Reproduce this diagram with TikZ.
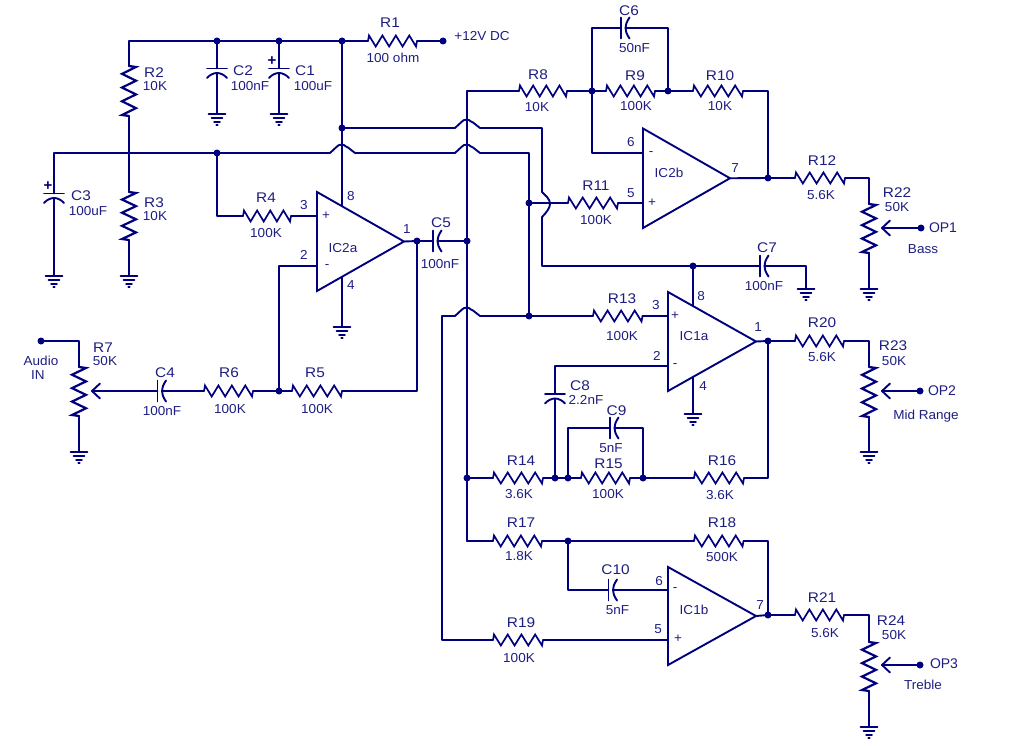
\documentclass[tikz,border=0pt]{standalone}
\usepackage{fontspec}
\setmainfont{Liberation Sans}
\definecolor{ink}{HTML}{00007F}
\definecolor{txt}{HTML}{1E1E82}
\tikzset{
  x=1pt,y=-1pt,
  wire/.style={draw=ink,line width=1.9pt,line join=round,line cap=round},
  zigh/.style={draw=ink,line width=1.7pt,line join=miter,line cap=round},
  zigv/.style={draw=ink,line width=2.2pt,line join=miter,line cap=round},
  dotn/.style={circle,fill=ink,inner sep=0pt,minimum size=7pt},
  lbl/.style={text=txt,inner sep=0pt,font=\fontsize{13}{13}\selectfont,xscale=1.04},
  ref/.style={text=txt,inner sep=0pt,font=\fontsize{14}{14}\selectfont,xscale=1.1},
  outp/.style={text=txt,inner sep=0pt,font=\fontsize{14}{14}\selectfont},
  sgn/.style={text=ink,inner sep=0pt,font=\bfseries\fontsize{15}{15}\selectfont},
}
\newcount\lc
\newcommand{\lb}[3]{\global\advance\lc by 1 \node[lbl] (L\the\lc) at (#1,#2) {#3};}
\newcommand{\rf}[3]{\global\advance\lc by 1 \node[ref] (L\the\lc) at (#1,#2) {#3};}
\newcommand{\ou}[3]{\global\advance\lc by 1 \node[outp] (L\the\lc) at (#1,#2) {#3};}
\newcommand{\sg}[3]{\global\advance\lc by 1 \node[sgn] (L\the\lc) at (#1,#2) {#3};}
\newcommand{\jn}[3]{\coordinate (#1) at (#2,#3); \node[dotn] (#1-d) at (#2,#3) {};}
\newcommand{\cn}[3]{\coordinate (#1) at (#2,#3);}
\newcommand{\resh}[4]{%
  \coordinate (#1-a) at (#2,#4); \coordinate (#1-b) at (#3,#4);
  \pgfmathsetmacro\zd{(#3-#2-2)/7}
  \draw[zigh,shift={(#2,#4)}] (0,0) -- (1,-5.5) -- ++(\zd,11) -- ++(\zd,-11) -- ++(\zd,11) -- ++(\zd,-11) -- ++(\zd,11) -- ++(\zd,-11) -- ++(\zd,11) -- ++(1,-5.5);}
\newcommand{\resv}[4]{%
  \coordinate (#1-a) at (#2,#3); \coordinate (#1-b) at (#2,#4);
  \pgfmathsetmacro\zd{(#4-#3-2)/7}
  \draw[zigv,shift={(#2,#3)}] (0,0) -- (7,1) -- ++(-14,\zd) -- ++(14,\zd) -- ++(-14,\zd) -- ++(14,\zd) -- ++(-14,\zd) -- ++(14,\zd) -- ++(-14,\zd) -- ++(7,1);}
\newcommand{\caph}[3]{%
  \coordinate (#1-a) at (#2,#3); \coordinate (#1-b) at ({#2+4.5},#3);
  \draw[wire,shift={(#2,#3)}] (0,-10.5) -- (0,10.5);
  \draw[wire,shift={(#2,#3)}] (8.5,-10.5) .. controls (5.5,-6) and (4.5,-3) .. (4.5,0) .. controls (4.5,3) and (5.5,6) .. (8.5,10.5);}
\newcommand{\capv}[3]{%
  \coordinate (#1-a) at (#2,#3); \coordinate (#1-b) at (#2,{#3+4.5});
  \draw[wire,shift={(#2,#3)}] (-10,0) -- (10,0);
  \draw[wire,shift={(#2,#3)}] (-10,9.5) .. controls (-7,6) and (-3,4.5) .. (0,4.5) .. controls (3,4.5) and (7,6) .. (10,9.5);}
\newcommand{\gnd}[3]{%
  \coordinate (#1) at (#2,#3);
  \draw[wire,shift={(#2,#3)}] (-8.5,0) -- (8.5,0) (-5.5,3.8) -- (5.5,3.8) (-2.8,7.6) -- (2.8,7.6) (-0.6,11.2) -- (0.6,11.2);}
\newcommand{\wiper}[3]{%
  \coordinate (#1) at (#2,#3);
  \draw[wire,shift={(#2,#3)}] (8,-7.5) -- (0,0) -- (8,7.5);}
\newcommand{\jumph}[3]{%
  \coordinate (#1-a) at ({#2-12},#3); \coordinate (#1-b) at ({#2+13},#3);
  \draw[wire,shift={(#2,#3)}] (-12,0) -- (-5,-6.5) .. controls (-3,-9) and (2,-9) .. (4,-6.5) -- (6,-5.5) -- (13,0);}
\newcommand{\jumpv}[3]{%
  \coordinate (#1-a) at (#2,{#3-11}); \coordinate (#1-b) at (#2,{#3+14});
  \draw[wire,shift={(#2,#3)}] (0,-11) .. controls (4,-7) and (8,-4) .. (8,1) .. controls (8,5) and (4,10) .. (0,14);}
\newcommand{\opamp}[7]{%
  \coordinate (#1-plus) at (#2,#6); \coordinate (#1-minus) at (#2,#7);
  \coordinate (#1-out) at (#5,{(#3+#4)/2});
  \draw[wire,line join=miter] (#2,#3) -- (#5,{(#3+#4)/2}) -- (#2,#4) -- cycle;}
\begin{document}
\begin{tikzpicture}
\useasboundingbox (0,0) rectangle (1014,746);
\fill[white] (0,0) rectangle (1014,746);

% ---- power rail and bias
\cn{tl}{129}{41}
\jn{jC2}{217}{41} \jn{jC1}{279}{41} \jn{jV}{342}{41} \jn{jP}{443}{41}
\resh{R1}{368}{417}{41}
\resv{R2}{129}{66}{116}
\resv{R3}{129}{192}{240}
\cn{n129}{129}{153}
\gnd{gR3}{129}{276}
\capv{C2}{217}{68.5} \gnd{gC2}{217}{114}
\capv{C1}{279}{68.5} \gnd{gC1}{279}{114}
\capv{C3}{54}{193.5} \gnd{gC3}{54}{276}
\cn{tlC3}{54}{153}
\jn{j217}{217}{153}
\jn{j342}{342}{128}
\jumph{jmpA}{342}{153}
\jumph{jmpB}{467}{128}
\jumph{jmpC}{467}{153}
\jumph{jmpD}{467}{316}
\jumpv{jmpE}{542}{203}
\draw[wire] (tl) -- (jC2) -- (jC1) -- (jV) -- (R1-a) (R1-b) -- (jP);
\draw[wire] (tl) -- (R2-a) (R2-b) -- (n129) -- (R3-a) (R3-b) -- (gR3);
\draw[wire] (jC2) -- (C2-a) (C2-b) -- (gC2);
\draw[wire] (jC1) -- (C1-a) (C1-b) -- (gC1);
\draw[wire] (tlC3) -- (C3-a) (C3-b) -- (gC3);

% ---- IC2a
\opamp{IC2a}{317}{192}{291}{404}{216}{266}
\cn{p8a}{342}{206} \cn{p4a}{342}{277} \gnd{g4a}{342}{327}
\resh{R4}{243}{291}{216}
\jn{jOut}{417}{241} \jn{jC5}{467}{241}
\caph{C5}{433}{241}
\jn{j279}{279}{391}
\resh{R5}{292}{342}{391}
\resh{R6}{204}{253}{391}
\caph{C4}{157.5}{391}
\cn{c417}{417}{391} \cn{c279}{279}{266} \cn{c217}{217}{216}
\draw[wire] (jV) -- (j342) -- (p8a) (p4a) -- (g4a);
\draw[wire] (tlC3) -- (n129) -- (j217) -- (jmpA-a) (jmpA-b) -- (jmpC-a);
\draw[wire] (j217) -- (c217) -- (R4-a) (R4-b) -- (IC2a-plus);
\draw[wire] (IC2a-out) -- (jOut) -- (C5-a) (C5-b) -- (jC5);
\draw[wire] (jOut) -- (c417) -- (R5-b) (R5-a) -- (j279) -- (R6-b) (R6-a) -- (C4-b);
\draw[wire] (j279) -- (c279) -- (IC2a-minus);

% ---- R7 input
\jn{jIn}{41}{341}
\cn{c79}{79}{341}
\resv{R7}{79}{367}{416}
\gnd{gR7}{79}{452}
\wiper{wR7}{92}{391}
\draw[wire] (jIn) -- (c79) -- (R7-a) (R7-b) -- (gR7) (wR7) -- (C4-a);

% ---- central bus
\cn{c467t}{467}{91} \jn{j467b}{467}{478} \cn{c467e}{467}{541}
\draw[wire] (c467t) -- (jC5) -- (j467b) -- (c467e);

% ---- IC2b
\opamp{IC2b}{643}{128.5}{228}{730}{203}{153}
\resh{R8}{519}{567}{91}
\jn{j592}{592}{91} \jn{j668}{668}{91}
\resh{R9}{606}{655}{91}
\resh{R10}{693}{743}{91}
\caph{C6}{621}{28}
\cn{c592t}{592}{28} \cn{c668t}{668}{28} \cn{c592b}{592}{153} \cn{c768t}{768}{91}
\jn{j768}{768}{178}
\resh{R11}{568}{618}{203}
\jn{j526a}{529}{203} \jn{j526b}{529}{316}
\cn{c526}{529}{153}
\resh{R12}{795}{845}{178}
\cn{c869a}{869}{178}
\resv{R22}{869}{204}{253}
\gnd{gR22}{869}{289}
\wiper{wR22}{882}{228}
\jn{jOP1}{921}{228}
\draw[wire] (c467t) -- (R8-a) (R8-b) -- (j592) -- (R9-a) (R9-b) -- (j668) -- (R10-a) (R10-b) -- (c768t) -- (j768);
\draw[wire] (j592) -- (c592t) -- (C6-a) (C6-b) -- (c668t) -- (j668);
\draw[wire] (j592) -- (c592b) -- (IC2b-minus);
\draw[wire] (jmpC-b) -- (c526) -- (j526a) -- (j526b);
\draw[wire] (j526a) -- (R11-a) (R11-b) -- (IC2b-plus);
\draw[wire] (IC2b-out) -- (j768) -- (R12-a) (R12-b) -- (c869a) -- (R22-a) (R22-b) -- (gR22);
\draw[wire] (jOP1) -- (wR22);

% ---- supply to IC1 and C7
\cn{c538t}{542}{128} \cn{c538b}{542}{266}
\jn{jC7}{693}{266}
\caph{C7}{760}{266}
\cn{c806}{806}{266} \gnd{gC7}{806}{289}
\cn{p8b}{693}{306}
\draw[wire] (j342) -- (jmpB-a) (jmpB-b) -- (c538t) -- (jmpE-a) (jmpE-b) -- (c538b) -- (jC7) -- (C7-a) (C7-b) -- (c806) -- (gC7);
\draw[wire] (jC7) -- (p8b);

% ---- IC1a
\opamp{IC1a}{668}{292}{391}{756}{316}{366}
\cn{c442}{442}{316} \cn{c442b}{442}{640}
\resh{R13}{593}{642.5}{316}
\cn{p4b}{693}{377} \gnd{g4b}{693}{414}
\jn{j768b}{768}{341}
\resh{R20}{795}{844}{341}
\cn{c869b}{869}{341}
\resv{R23}{869}{367}{417}
\gnd{gR23}{869}{452}
\wiper{wR23}{882}{391}
\jn{jOP2}{920}{391}
\cn{c555}{555}{366}
\capv{C8}{555}{394}
\jn{j555}{555}{478} \jn{j568}{568}{478} \jn{j643}{643}{478}
\resh{R14}{493}{543}{478}
\resh{R15}{581}{630}{478}
\resh{R16}{694}{744}{478}
\cn{c768c}{768}{478}
\caph{C9}{610}{428}
\cn{c568t}{568}{428} \cn{c643t}{643}{428}
\draw[wire] (c442) -- (jmpD-a) (jmpD-b) -- (j526b) -- (R13-a) (R13-b) -- (IC1a-plus);
\draw[wire] (p4b) -- (g4b);
\draw[wire] (IC1a-minus) -- (c555) -- (C8-a) (C8-b) -- (j555);
\draw[wire] (j467b) -- (R14-a) (R14-b) -- (j555) -- (j568) -- (R15-a) (R15-b) -- (j643) -- (R16-a) (R16-b) -- (c768c) -- (j768b);
\draw[wire] (j568) -- (c568t) -- (C9-a) (C9-b) -- (c643t) -- (j643);
\draw[wire] (IC1a-out) -- (j768b) -- (R20-a) (R20-b) -- (c869b) -- (R23-a) (R23-b) -- (gR23);
\draw[wire] (jOP2) -- (wR23);

% ---- IC1b
\opamp{IC1b}{668}{567}{665}{756}{640}{590}
\resh{R17}{493}{542}{541}
\resh{R18}{694}{743.5}{541}
\resh{R19}{493}{543}{640}
\jn{j568c}{568}{541}
\cn{c568d}{568}{590}
\caph{C10}{608.5}{590}
\cn{c768d}{768}{541}
\jn{j768c}{768}{615}
\resh{R21}{795}{844}{615}
\cn{c869c}{869}{615}
\resv{R24}{869}{642}{691}
\gnd{gR24}{869}{727}
\wiper{wR24}{882}{665}
\jn{jOP3}{920}{665}
\draw[wire] (c467e) -- (R17-a) (R17-b) -- (j568c) -- (R18-a) (R18-b) -- (c768d) -- (j768c);
\draw[wire] (j568c) -- (c568d) -- (C10-a) (C10-b) -- (IC1b-minus);
\draw[wire] (c442) -- (c442b) -- (R19-a) (R19-b) -- (IC1b-plus);
\draw[wire] (IC1b-out) -- (j768c) -- (R21-a) (R21-b) -- (c869c) -- (R24-a) (R24-b) -- (gR24);
\draw[wire] (jOP3) -- (wR24);

% ---- labels, left part
\rf{390}{23}{R1} \lb{393}{58}{100 ohm} \lb{482}{36}{+12V DC}
\rf{154}{73}{R2} \lb{155}{86}{10K}
\rf{243}{71}{C2} \lb{250}{86}{100nF}
\rf{305}{71}{C1} \lb{313}{86}{100uF} \sg{272}{61}{+}
\rf{154}{203}{R3} \lb{155}{216}{10K}
\rf{81}{196}{C3} \lb{88}{211}{100uF} \sg{48}{186}{+}
\rf{266}{198}{R4} \lb{266}{233}{100K}
\lb{304}{205}{3} \lb{351}{196}{8} \lb{304}{255}{2} \lb{351}{285}{4} \lb{407}{229}{1}
\lb{326}{216}{+} \lb{327}{267}{-} \lb{343}{248}{IC2a}
\rf{441}{223}{C5} \lb{440}{264}{100nF}
\lb{41}{361}{Audio} \lb{38}{375}{IN}
\rf{103}{348}{R7} \lb{105}{361}{50K}
\rf{165}{373}{C4} \lb{162}{411}{100nF}
\rf{229}{373}{R6} \lb{230}{409}{100K}
\rf{315}{373}{R5} \lb{317}{409}{100K}
% ---- labels, IC2b
\rf{538}{75}{R8} \lb{537}{107}{10K}
\rf{635}{76}{R9} \lb{636}{106}{100K}
\rf{720}{76}{R10} \lb{720}{106}{10K}
\rf{629}{11}{C6} \lb{634.5}{48}{50nF}
\lb{631}{142}{6} \lb{631}{193}{5} \lb{735}{168}{7}
\lb{651}{154}{-} \lb{652}{203}{+} \lb{669}{173}{IC2b}
\rf{596}{186}{R11} \lb{596}{220}{100K}
\rf{822}{161}{R12} \lb{821}{195}{5.6K}
\rf{897}{193}{R22} \lb{897}{207}{50K}
\ou{943}{228}{OP1} \lb{923}{249}{Bass}
\rf{767}{248}{C7} \lb{764}{286}{100nF}
% ---- labels, IC1a
\rf{622}{299}{R13} \lb{622}{336}{100K}
\lb{656}{305}{3} \lb{657}{356}{2} \lb{701}{296}{8} \lb{703}{386}{4} \lb{758}{327}{1}
\lb{675}{316}{+} \lb{675}{366}{-} \lb{694}{336}{IC1a}
\rf{822}{323}{R20} \lb{822}{357}{5.6K}
\rf{893}{346}{R23} \lb{894}{361}{50K}
\ou{942}{391}{OP2} \lb{926}{416}{Mid Range}
\rf{580}{386}{C8} \lb{586}{400}{2.2nF}
\rf{616.5}{411}{C9} \lb{611}{448}{5nF}
\rf{521}{461}{R14} \lb{519}{494}{3.6K}
\rf{608.5}{464}{R15} \lb{608}{494}{100K}
\rf{722}{461}{R16} \lb{720}{495}{3.6K}
% ---- labels, IC1b
\rf{521}{523}{R17} \lb{519}{556}{1.8K}
\rf{722}{523}{R18} \lb{722}{557}{500K}
\rf{615.5}{570}{C10} \lb{617.5}{610}{5nF}
\lb{659}{581}{6} \lb{658}{629}{5} \lb{675}{590}{-} \lb{678}{639}{+} \lb{694}{610}{IC1b} \lb{760}{605}{7}
\rf{521}{623}{R19} \lb{519}{658}{100K}
\rf{822}{598}{R21} \lb{825}{633}{5.6K}
\rf{891}{621}{R24} \lb{894}{635}{50K}
\ou{944}{664}{OP3} \lb{923}{685}{Treble}
\end{tikzpicture}
\end{document}
